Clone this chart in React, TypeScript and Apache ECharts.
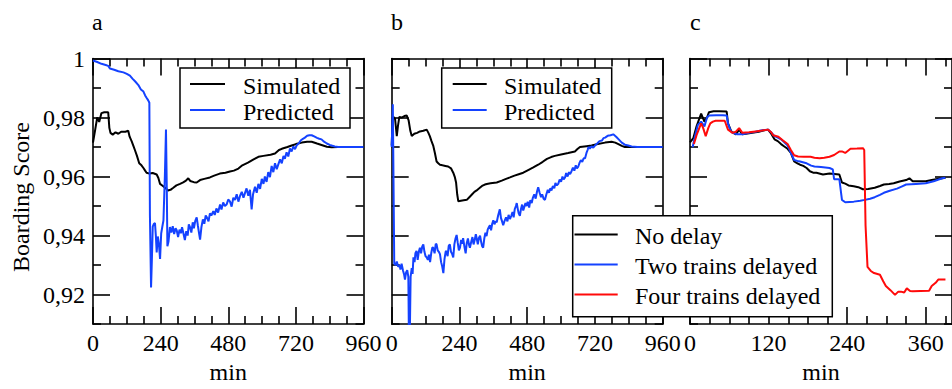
import React, { useEffect, useRef } from "react";
import * as echarts from "echarts";

const FONT = "Liberation Serif";
const BLUE = "#1442ff";
const RED = "#ff0a0a";
const BLACK = "#000000";

// tick values
const Y_MAJOR = [0.92, 0.94, 0.96, 0.98, 1.0];
const Y_MINOR = [0.91, 0.93, 0.95, 0.97, 0.99];
const AB_X_MAJOR = [0, 240, 480, 720, 960];
const AB_X_MINOR = [60, 120, 180, 300, 360, 420, 540, 600, 660, 780, 840, 900];
const C_X_MAJOR = [0, 120, 240, 360];
const C_X_MINOR = [30, 60, 90, 150, 180, 210, 270, 300, 330, 390];

const PANEL_LABELS = ["a", "b", "c"];
const Y_TITLE = "Boarding Score";
const X_TITLE = "min";
const LEGEND_AB = ["Simulated", "Predicted"];
const LEGEND_C = ["No delay", "Two trains delayed", "Four trains delayed"];

// Panel a
const aSimulated: [number, number][] = [
  [0, 0.9715], [8, 0.976], [15, 0.98], [22, 0.9785], [30, 0.9815], [40, 0.9818], [54, 0.9818], [58, 0.9765],
  [62, 0.9748], [70, 0.9742], [80, 0.975], [90, 0.9745], [100, 0.9752], [115, 0.9752], [125, 0.9755], [130, 0.9735],
  [137, 0.972], [143, 0.9705], [149, 0.9689], [156, 0.967], [164, 0.9645], [172, 0.9638], [179, 0.9629], [185, 0.962],
  [190, 0.9613], [200, 0.961], [212, 0.9612], [226, 0.9607], [232, 0.9595], [238, 0.9575], [248, 0.9568], [258, 0.956],
  [266, 0.9553], [275, 0.9555], [285, 0.9562], [296, 0.957], [309, 0.9575], [320, 0.958], [330, 0.9586], [338, 0.9594],
  [345, 0.9585], [358, 0.9581], [368, 0.958], [380, 0.9588], [395, 0.9592], [415, 0.9597], [430, 0.9603], [450, 0.961],
  [470, 0.9613], [486, 0.9617], [500, 0.962], [516, 0.9627], [530, 0.9638], [550, 0.9647], [570, 0.9658], [587, 0.9667],
  [605, 0.967], [630, 0.9674], [646, 0.9678], [660, 0.969], [670, 0.9694], [690, 0.97], [705, 0.9705], [720, 0.971],
  [741, 0.9715], [760, 0.9718], [776, 0.9718], [795, 0.9712], [811, 0.9707], [830, 0.9701], [847, 0.9699], [870, 0.97],
  [900, 0.97], [930, 0.97], [960, 0.97],
];
const aPredicted: [number, number][] = [
  [0, 0.9993], [15, 0.9988], [30, 0.9982], [45, 0.9978], [54, 0.9975], [60, 0.9966], [75, 0.9962], [90, 0.9957],
  [108, 0.9953], [120, 0.9948], [131, 0.9942], [140, 0.9932], [150, 0.9922], [161, 0.991], [170, 0.9895], [179, 0.9888],
  [185, 0.9875], [190, 0.9867], [196, 0.9858], [200, 0.985], [202, 0.947], [206, 0.9224], [209, 0.932], [212, 0.943],
  [216, 0.944], [220, 0.9442], [223, 0.94], [226, 0.9343], [230, 0.9397], [234, 0.937], [238, 0.9321], [242, 0.9407],
  [246, 0.943], [250, 0.9451], [255, 0.96], [259, 0.9759], [262, 0.955], [264, 0.9364], [268, 0.938], [273, 0.9429],
  [278, 0.941], [283, 0.9432], [288, 0.9405], [293, 0.9425], [297, 0.9418], [302, 0.9395], [307, 0.942], [312, 0.9408],
  [316, 0.9428], [321, 0.9407], [326, 0.9385], [331, 0.9415], [336, 0.94], [340, 0.9438], [344, 0.9429], [349, 0.941],
  [354, 0.9445], [358, 0.9425], [363, 0.945], [368, 0.9462], [372, 0.9435], [376, 0.941], [380, 0.9386], [385, 0.943],
  [390, 0.9455], [395, 0.944], [400, 0.9468], [404, 0.9462], [410, 0.9448], [415, 0.9475], [420, 0.9468], [427, 0.9483],
  [432, 0.947], [438, 0.9492], [444, 0.9478], [451, 0.9505], [456, 0.9488], [462, 0.9512], [468, 0.95], [474, 0.9505],
  [480, 0.9522], [486, 0.9516], [492, 0.9498], [498, 0.9528], [504, 0.9521], [510, 0.954], [516, 0.9515], [522, 0.9535],
  [528, 0.9548], [534, 0.9528], [539, 0.9543], [545, 0.956], [551, 0.9535], [557, 0.9555], [563, 0.9489], [568, 0.954],
  [575, 0.9565], [581, 0.9545], [587, 0.9575], [593, 0.9558], [599, 0.9592], [605, 0.9575], [610, 0.96], [616, 0.9582],
  [622, 0.9615], [628, 0.9598], [634, 0.9636], [640, 0.9615], [646, 0.9645], [652, 0.9625], [658, 0.9642], [664, 0.9658],
  [670, 0.9645], [676, 0.967], [681, 0.966], [687, 0.9682], [693, 0.9668], [699, 0.9695], [705, 0.9685], [711, 0.9702],
  [717, 0.9693], [723, 0.9706], [730, 0.9712], [737, 0.9722], [745, 0.9728], [752, 0.9732], [760, 0.9738], [768, 0.974],
  [776, 0.974], [785, 0.9736], [795, 0.9731], [803, 0.9728], [811, 0.9726], [820, 0.9718], [830, 0.9712], [840, 0.9707],
  [847, 0.9705], [858, 0.9702], [870, 0.97], [900, 0.97], [930, 0.97], [960, 0.97],
];

// Panel b
const bSimulated: [number, number][] = [
  [0, 0.9705], [3, 0.979], [6, 0.9802], [12, 0.9795], [18, 0.9737], [22, 0.977], [27, 0.9802], [35, 0.98], [45, 0.9805],
  [53, 0.9807], [60, 0.979], [66, 0.9755], [71, 0.9737], [80, 0.9745], [90, 0.9748], [100, 0.9753], [112, 0.9755],
  [124, 0.9759], [130, 0.9748], [135, 0.9737], [141, 0.972], [147, 0.9705], [153, 0.968], [159, 0.9651], [165, 0.9645],
  [171, 0.964], [180, 0.9638], [190, 0.9636], [200, 0.9634], [210, 0.9628], [218, 0.9613], [224, 0.9597], [228, 0.958],
  [232, 0.954], [236, 0.9516], [245, 0.9518], [255, 0.952], [266, 0.9521], [275, 0.953], [285, 0.954], [293, 0.9548],
  [301, 0.9553], [310, 0.956], [320, 0.9568], [330, 0.9573], [337, 0.9575], [350, 0.9577], [372, 0.958], [390, 0.9586],
  [405, 0.9592], [419, 0.9597], [435, 0.9603], [450, 0.9608], [466, 0.9613], [480, 0.962], [500, 0.963], [519, 0.964],
  [535, 0.965], [550, 0.966], [565, 0.9666], [578, 0.967], [600, 0.9675], [625, 0.968], [649, 0.9685], [658, 0.9693],
  [667, 0.97], [690, 0.9703], [708, 0.9705], [730, 0.971], [756, 0.9715], [779, 0.9718], [792, 0.9715], [803, 0.971],
  [815, 0.9704], [826, 0.97], [850, 0.97], [900, 0.97], [960, 0.97],
];
const bPredicted: [number, number][] = [
  [0, 0.97], [4, 0.9845], [6, 0.9845], [9, 0.9305], [14, 0.93], [18, 0.9312], [23, 0.9294], [28, 0.93], [31, 0.9285],
  [35, 0.9305], [40, 0.9282], [44, 0.9268], [47, 0.9251], [51, 0.9275], [55, 0.9283], [59, 0.926], [61, 0.905],
  [64, 0.905], [67, 0.926], [71, 0.929], [74, 0.927], [77, 0.9326], [81, 0.931], [84, 0.934], [88, 0.9348], [92, 0.9318],
  [96, 0.9345], [100, 0.9359], [104, 0.934], [108, 0.9362], [112, 0.937], [116, 0.9345], [120, 0.933], [124, 0.9326],
  [128, 0.9318], [132, 0.9335], [136, 0.931], [140, 0.934], [144, 0.936], [147, 0.9359], [152, 0.934], [156, 0.9372],
  [159, 0.937], [163, 0.935], [167, 0.9345], [171, 0.9337], [175, 0.931], [179, 0.9295], [183, 0.9273], [187, 0.932],
  [191, 0.9345], [194, 0.9348], [198, 0.933], [202, 0.9365], [206, 0.937], [210, 0.9345], [214, 0.9338], [218, 0.9326],
  [222, 0.937], [226, 0.939], [230, 0.9402], [234, 0.9375], [238, 0.935], [242, 0.9359], [246, 0.9385], [250, 0.9372],
  [253, 0.9391], [258, 0.936], [262, 0.934], [266, 0.9375], [270, 0.939], [274, 0.9368], [277, 0.9359], [282, 0.938],
  [286, 0.9395], [290, 0.937], [294, 0.9385], [298, 0.9405], [301, 0.9391], [305, 0.937], [309, 0.9392], [313, 0.94],
  [317, 0.9378], [320, 0.9365], [324, 0.9359], [328, 0.939], [332, 0.941], [336, 0.9398], [340, 0.942], [344, 0.9428],
  [348, 0.9435], [352, 0.9418], [356, 0.944], [360, 0.9452], [364, 0.9438], [368, 0.9448], [372, 0.9445], [377, 0.9468],
  [383, 0.9489], [387, 0.946], [391, 0.9448], [395, 0.9435], [400, 0.945], [405, 0.9462], [410, 0.9448], [414, 0.947],
  [419, 0.9456], [424, 0.9468], [428, 0.948], [432, 0.9462], [436, 0.949], [440, 0.95], [443, 0.951], [447, 0.9488],
  [450, 0.9475], [454, 0.9467], [458, 0.949], [462, 0.9505], [466, 0.9485], [470, 0.9498], [474, 0.951], [478, 0.95],
  [482, 0.9515], [487, 0.9495], [491, 0.952], [496, 0.951], [500, 0.9528], [505, 0.954], [510, 0.9525], [515, 0.955],
  [519, 0.9564], [524, 0.9545], [529, 0.953], [533, 0.954], [538, 0.9525], [543, 0.9521], [548, 0.954], [553, 0.9555],
  [557, 0.9545], [562, 0.956], [566, 0.9553], [571, 0.9568], [576, 0.956], [580, 0.9578], [585, 0.957], [590, 0.9575],
  [595, 0.959], [600, 0.9582], [605, 0.96], [609, 0.959], [614, 0.9597], [618, 0.9612], [623, 0.96], [628, 0.9615],
  [632, 0.9608], [637, 0.9618], [642, 0.963], [647, 0.962], [652, 0.9638], [656, 0.9628], [661, 0.9634], [666, 0.9648],
  [670, 0.9655], [675, 0.965], [680, 0.9662], [685, 0.9662], [690, 0.968], [694, 0.969], [697, 0.97], [702, 0.9695],
  [708, 0.9702], [714, 0.9698], [720, 0.9705], [728, 0.9712], [736, 0.972], [745, 0.9722], [750, 0.973], [756, 0.9732],
  [765, 0.9738], [775, 0.974], [785, 0.9743], [795, 0.9735], [805, 0.9725], [815, 0.9715], [826, 0.9708], [838, 0.9705],
  [850, 0.9702], [870, 0.97], [900, 0.97], [960, 0.97],
];

// Panel c
const cNoDelay: [number, number][] = [
  [0, 0.9716], [5, 0.973], [10, 0.977], [17, 0.9813], [22, 0.9786], [26, 0.98], [29, 0.9818], [36, 0.9821], [45, 0.9821],
  [56, 0.982], [58, 0.978], [63, 0.9753], [70, 0.9743], [75, 0.9759], [80, 0.9743], [88, 0.9746], [95, 0.9748],
  [105, 0.9752], [112, 0.9756], [119, 0.9759], [124, 0.9745], [129, 0.9726], [134, 0.972], [139, 0.971], [144, 0.9702],
  [149, 0.9694], [154, 0.968], [159, 0.9651], [164, 0.9645], [168, 0.964], [173, 0.9636], [178, 0.9629], [183, 0.9618],
  [188, 0.9613], [193, 0.9613], [203, 0.9607], [213, 0.961], [228, 0.9607], [232, 0.958], [237, 0.9576], [242, 0.957],
  [250, 0.9567], [257, 0.9564], [264, 0.9557], [272, 0.9558], [282, 0.9562], [290, 0.9568], [296, 0.9573], [304, 0.9575],
  [311, 0.9577], [320, 0.9583], [330, 0.9588], [335, 0.9594], [340, 0.9584], [350, 0.9584], [360, 0.9584], [369, 0.9588],
  [378, 0.9592], [390, 0.9596],
];
const cTwoDelayed: [number, number][] = [
  [4, 0.9699], [8, 0.974], [12, 0.9775], [17, 0.9786], [22, 0.977], [26, 0.98], [29, 0.9807], [40, 0.9808], [50, 0.9808],
  [56, 0.9807], [58, 0.978], [62, 0.9755], [65, 0.9748], [72, 0.9743], [80, 0.9743], [90, 0.9748], [100, 0.9752],
  [110, 0.9757], [119, 0.9759], [124, 0.975], [129, 0.9737], [134, 0.9732], [139, 0.9726], [144, 0.9716], [149, 0.9705],
  [154, 0.968], [159, 0.9656], [164, 0.9653], [168, 0.9651], [178, 0.9645], [185, 0.9637], [190, 0.9634], [200, 0.9632],
  [213, 0.9629], [218, 0.9624], [220, 0.9591], [228, 0.9591], [232, 0.9521], [237, 0.9513], [250, 0.9515], [260, 0.9518],
  [267, 0.9521], [275, 0.9525], [282, 0.953], [290, 0.9538], [296, 0.9545], [305, 0.9552], [316, 0.9559], [323, 0.9566],
  [330, 0.9573], [345, 0.9575], [360, 0.9577], [372, 0.9584], [385, 0.9594], [390, 0.9596],
];
const cFourDelayed: [number, number][] = [
  [6, 0.971], [10, 0.974], [17, 0.978], [20, 0.9765], [24, 0.9737], [28, 0.9765], [31, 0.978], [35, 0.9786], [39, 0.9789],
  [46, 0.9789], [53, 0.9789], [58, 0.9759], [65, 0.9748], [70, 0.9752], [75, 0.9764], [80, 0.9748], [90, 0.975],
  [100, 0.9753], [110, 0.9756], [119, 0.9759], [124, 0.975], [127, 0.974], [135, 0.9735], [142, 0.9722], [149, 0.971],
  [154, 0.969], [159, 0.9672], [165, 0.9668], [174, 0.9667], [184, 0.9667], [190, 0.9664], [198, 0.9662], [205, 0.9664],
  [213, 0.9667], [220, 0.9673], [228, 0.9685], [232, 0.9685], [237, 0.968], [245, 0.9694], [255, 0.9695], [264, 0.9696],
  [266, 0.969], [268, 0.9435], [271, 0.9294], [276, 0.928], [281, 0.9273], [290, 0.9267], [295, 0.9245], [299, 0.9229],
  [306, 0.9215], [313, 0.9199], [318, 0.921], [322, 0.921], [327, 0.9207], [331, 0.9221], [336, 0.9212], [340, 0.9211],
  [352, 0.9212], [365, 0.9213], [369, 0.9229], [375, 0.924], [379, 0.9251], [390, 0.9251],
];

const FS = 24;
const TXT = { fontFamily: FONT, fontSize: FS, color: "#000" };
const LINE = { color: "#000", width: 1.6 };

function xAxes(grid: number, max: number, major: number[], minor: number[]) {
  const base = {
    type: "value",
    gridIndex: grid,
    min: 0,
    max,
    splitLine: { show: false },
  };
  const lineOn = { show: true, onZero: false, lineStyle: LINE };
  const lineOff = { show: false, onZero: false };
  return [
    {
      ...base,
      position: "bottom",
      axisLine: lineOn,
      axisTick: { show: true, inside: true, length: 17, customValues: major, lineStyle: LINE },
      axisLabel: { show: true, customValues: major, margin: 7, ...TXT },
      name: X_TITLE,
      nameLocation: "middle",
      nameGap: 30,
      nameTextStyle: TXT,
    },
    {
      ...base,
      position: "bottom",
      axisLine: lineOff,
      axisTick: { show: true, inside: true, length: 8, customValues: minor, lineStyle: LINE },
      axisLabel: { show: false },
    },
    {
      ...base,
      position: "top",
      axisLine: lineOn,
      axisTick: { show: true, inside: true, length: 17, customValues: major, lineStyle: LINE },
      axisLabel: { show: false },
    },
    {
      ...base,
      position: "top",
      axisLine: lineOff,
      axisTick: { show: true, inside: true, length: 8, customValues: minor, lineStyle: LINE },
      axisLabel: { show: false },
    },
  ];
}

function yAxes(grid: number, labels: boolean) {
  const base = {
    type: "value",
    gridIndex: grid,
    min: 0.91,
    max: 1.0,
    splitLine: { show: false },
  };
  const lineOn = { show: true, onZero: false, lineStyle: LINE };
  const lineOff = { show: false, onZero: false };
  const fmt = (v: number) => (v >= 0.9999 ? "1" : v.toFixed(2).replace(".", ","));
  return [
    {
      ...base,
      position: "left",
      axisLine: lineOn,
      axisTick: { show: true, inside: true, length: 17, customValues: Y_MAJOR, lineStyle: LINE },
      axisLabel: labels
        ? { show: true, customValues: Y_MAJOR, margin: 8, formatter: fmt, ...TXT }
        : { show: false },
    },
    {
      ...base,
      position: "left",
      axisLine: lineOff,
      axisTick: { show: true, inside: true, length: 8, customValues: Y_MINOR, lineStyle: LINE },
      axisLabel: { show: false },
    },
    {
      ...base,
      position: "right",
      axisLine: lineOn,
      axisTick: { show: true, inside: true, length: 17, customValues: Y_MAJOR, lineStyle: LINE },
      axisLabel: { show: false },
    },
    {
      ...base,
      position: "right",
      axisLine: lineOff,
      axisTick: { show: true, inside: true, length: 8, customValues: Y_MINOR, lineStyle: LINE },
      axisLabel: { show: false },
    },
  ];
}

function lineSeries(name: string, panel: number, data: [number, number][], color: string) {
  return {
    type: "line",
    name,
    xAxisIndex: panel * 4,
    yAxisIndex: panel * 4,
    data,
    showSymbol: false,
    symbol: "none",
    clip: true,
    lineStyle: { color, width: 2 },
    itemStyle: { color },
    z: 3,
  };
}

function legendBox(
  x: number, y: number, w: number, h: number, lineX: [number, number], textX: number,
  rows: { label: string; color: string; y: number }[]
) {
  const els: any[] = [
    {
      type: "rect",
      z: 100,
      zlevel: 1,
      shape: { x, y, width: w, height: h },
      style: { fill: "#fff", stroke: "#000", lineWidth: 1.5 },
    },
  ];
  rows.forEach((r) => {
    els.push({
      type: "line",
      z: 101,
      zlevel: 1,
      shape: { x1: lineX[0], y1: r.y, x2: lineX[1], y2: r.y },
      style: { stroke: r.color, lineWidth: 2 },
    });
    els.push({
      type: "text",
      z: 101,
      zlevel: 1,
      x: textX,
      y: r.y + 1.5,
      style: { text: r.label, font: `${FS}px "${FONT}"`, fill: "#000", verticalAlign: "middle", align: "left" },
    });
  });
  return els;
}

export default function App() {
  const ref = useRef<HTMLDivElement>(null);
  useEffect(() => {
    if (!ref.current) return;
    const chart = echarts.init(ref.current, undefined, { renderer: "svg" });
    const grids = [
      { left: 93, top: 58.5, width: 270.5, height: 277.2 },
      { left: 391.7, top: 58.5, width: 271, height: 277.2 },
      { left: 690, top: 58.5, width: 272.3, height: 277.2 },
    ];
    const option: any = {
      animation: false,
      backgroundColor: "#fff",
      textStyle: { fontFamily: FONT },
      grid: grids.map((g) => ({ ...g, containLabel: false })),
      xAxis: [
        ...xAxes(0, 960, AB_X_MAJOR, AB_X_MINOR),
        ...xAxes(1, 960, AB_X_MAJOR, AB_X_MINOR),
        ...xAxes(2, 400, C_X_MAJOR, C_X_MINOR),
      ],
      yAxis: [...yAxes(0, true), ...yAxes(1, false), ...yAxes(2, false)],
      series: [
        lineSeries(LEGEND_AB[0], 0, aSimulated, BLACK),
        lineSeries(LEGEND_AB[1], 0, aPredicted, BLUE),
        lineSeries(LEGEND_AB[0], 1, bSimulated, BLACK),
        lineSeries(LEGEND_AB[1], 1, bPredicted, BLUE),
        lineSeries(LEGEND_C[0], 2, cNoDelay, BLACK),
        lineSeries(LEGEND_C[1], 2, cTwoDelayed, BLUE),
        lineSeries(LEGEND_C[2], 2, cFourDelayed, RED),
      ],
      graphic: [
        ...PANEL_LABELS.map((t, i) => ({
          type: "text",
          x: [92, 391, 690][i],
          y: 22,
          style: { text: t, font: `${FS}px "${FONT}"`, fill: "#000", verticalAlign: "middle", align: "left" },
        })),
        {
          type: "text",
          x: 20.5,
          y: 197,
          rotation: Math.PI / 2,
          style: { text: Y_TITLE, font: `${FS}px "${FONT}"`, fill: "#000", verticalAlign: "middle", align: "center" },
        },
        ...legendBox(180, 68, 170, 60, [190, 225], 243, [
          { label: LEGEND_AB[0], color: BLACK, y: 84 },
          { label: LEGEND_AB[1], color: BLUE, y: 110 },
        ]),
        ...legendBox(441.7, 68, 170, 60, [452.7, 486.7], 504, [
          { label: LEGEND_AB[0], color: BLACK, y: 84 },
          { label: LEGEND_AB[1], color: BLUE, y: 110 },
        ]),
        ...legendBox(572.7, 215.7, 259.6, 101, [574.5, 617.7], 635, [
          { label: LEGEND_C[0], color: BLACK, y: 234.5 },
          { label: LEGEND_C[1], color: BLUE, y: 264.5 },
          { label: LEGEND_C[2], color: RED, y: 294.5 },
        ]),
      ],
    };
    chart.setOption(option);
    return () => chart.dispose();
  }, []);
  return (
    <div
      ref={ref}
      style={{ position: "absolute", left: 0, top: 0, width: 952, height: 389, background: "#fff" }}
    />
  );
}
